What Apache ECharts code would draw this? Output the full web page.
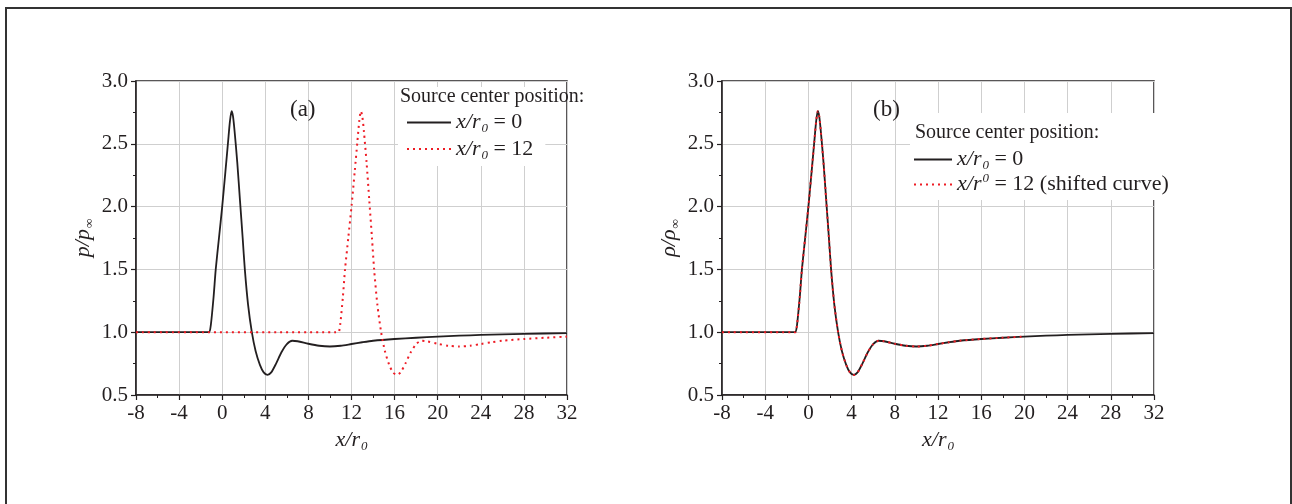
<!DOCTYPE html>
<html>
<head>
<meta charset="utf-8">
<script src="https://cdn.jsdelivr.net/npm/echarts@6/dist/echarts.min.js"></script>
<style>html,body{margin:0;padding:0;background:#fff}#c{width:1292px;height:504px}</style>
</head>
<body>
<div id="c"></div>
<script>
// ---- data ----
const xTickLabels = ['-8','-4','0','4','8','12','16','20','24','28','32'];
const yTickLabels = ['0.5','1.0','1.5','2.0','2.5','3.0'];

// source centre at x/r0 = 0 (black, both panels)
const xSrc0 = [-8,-1.4,-1.2,-1.05,-0.8,-0.6,-0.3,0,0.3,0.55,0.72,0.87,1.0,1.15,1.4,1.65,1.9,2.1,2.4,2.75,3.1,3.5,3.85,4.2,4.55,5.0,5.5,6.0,6.5,7.0,8.0,9.0,10.0,11.0,12.0,13,14,16,18,20,22,24,28,32];
const ySrc0 = [1.0,1.0,1.0,1.06,1.28,1.5,1.75,2.0,2.28,2.52,2.68,2.76,2.72,2.6,2.35,2.05,1.75,1.5,1.22,1.0,0.85,0.74,0.68,0.66,0.68,0.75,0.84,0.905,0.932,0.928,0.908,0.892,0.886,0.892,0.906,0.92,0.932,0.946,0.956,0.965,0.972,0.978,0.987,0.992];

// source centre at x/r0 = 12 (red dotted, panel a)
const xSrc12 = [-8,10.6,10.8,10.95,11.2,11.4,11.7,12,12.3,12.55,12.72,12.87,13.0,13.15,13.4,13.65,13.9,14.1,14.4,14.75,15.1,15.5,15.85,16.2,16.55,17.0,17.5,18.0,18.5,19.0,20.0,21.0,22.0,23.0,24.0,25,26,28,30,32];
const ySrc12 = [1.0,1.0,1.0,1.06,1.28,1.5,1.75,2.0,2.28,2.52,2.68,2.76,2.72,2.6,2.35,2.05,1.75,1.5,1.22,1.0,0.85,0.74,0.68,0.66,0.68,0.75,0.84,0.905,0.932,0.928,0.908,0.892,0.886,0.892,0.906,0.92,0.932,0.946,0.956,0.965];

// x/r0 = 12 shifted back by 12 (red dotted, panel b)
const xShift = [-8,-1.4,-1.2,-1.05,-0.8,-0.6,-0.3,0,0.3,0.55,0.72,0.87,1.0,1.15,1.4,1.65,1.9,2.1,2.4,2.75,3.1,3.5,3.85,4.2,4.55,5.0,5.5,6.0,6.5,7.0,8.0,9.0,10.0,11.0,12.0,13,14,16,18,20];
const yShift = [1.0,1.0,1.0,1.06,1.28,1.5,1.75,2.0,2.28,2.52,2.68,2.76,2.72,2.6,2.35,2.05,1.75,1.5,1.22,1.0,0.85,0.74,0.68,0.66,0.68,0.75,0.84,0.905,0.932,0.928,0.908,0.892,0.886,0.892,0.906,0.92,0.932,0.946,0.956,0.965];

const legendTitle = 'Source center position:';
const panelLabels = ['(a)','(b)'];

// ---- chart ----
const SERIF = '"Liberation Serif", "DejaVu Serif", serif';
const INK = '#231f20';
const RED = '#ee1c25';
const zip = (xs, ys) => xs.map((x, i) => [x, ys[i]]);

const richText = {
  i: {fontFamily: SERIF, fontStyle: 'italic', fontSize: 22, color: INK},
  n: {fontFamily: SERIF, fontSize: 22, color: INK},
  s: {fontFamily: SERIF, fontStyle: 'italic', fontSize: 13, color: INK, padding: [13, 0, 0, 1]},
  u: {fontFamily: SERIF, fontStyle: 'italic', fontSize: 13, color: INK, padding: [0, 0, 11, 1]}
};

const legendText = {
  a0: '{i|x/r}{s|0}{n| = 0}',
  a12: '{i|x/r}{s|0}{n| = 12}',
  b0: '{i|x/r}{s|0}{n| = 0}',
  b12: '{i|x/r}{u|0}{n| = 12 (shifted curve)}'
};

const grids = [
  {left: 136, top: 81, width: 431, height: 314},
  {left: 722, top: 81, width: 432, height: 314}
];

function xAx(gi) {
  return {
    gridIndex: gi, type: 'value', min: -8, max: 32, interval: 4,
    axisLine: {show: true, onZero: false, lineStyle: {color: INK, width: 1.5}},
    axisTick: {show: true, length: 5, lineStyle: {color: INK, width: 1.2}},
    minorTick: {show: true, splitNumber: 2, length: 3, lineStyle: {color: INK, width: 1}},
    splitLine: {show: true, lineStyle: {color: '#cfcfcf', width: 1}},
    axisLabel: {fontFamily: SERIF, fontSize: 21, color: INK, margin: 8,
      formatter: v => xTickLabels[Math.round((v + 8) / 4)] || ''},
    name: '{i|x/r}{s|0}', nameLocation: 'middle', nameGap: 32,
    nameTextStyle: {rich: richText}
  };
}
function yAx(gi, sym) {
  return {
    gridIndex: gi, type: 'value', min: 0.5, max: 3.0, interval: 0.5,
    axisLine: {show: true, onZero: false, lineStyle: {color: INK, width: 1.5}},
    axisTick: {show: true, length: 5, lineStyle: {color: INK, width: 1.2}},
    minorTick: {show: true, splitNumber: 2, length: 3, lineStyle: {color: INK, width: 1}},
    splitLine: {show: true, lineStyle: {color: '#cfcfcf', width: 1}},
    axisLabel: {fontFamily: SERIF, fontSize: 21, color: INK, margin: 8,
      formatter: v => yTickLabels[Math.round((v - 0.5) / 0.5)] || ''},
    name: '{i|' + sym + '/' + sym + '}{s|∞}', nameLocation: 'middle', nameGap: 40,
    nameTextStyle: {rich: richText}
  };
}

const legendCommon = {
  orient: 'vertical', backgroundColor: '#fff', itemHeight: 2,
  itemStyle: {opacity: 0, borderWidth: 0},
  formatter: n => legendText[n], textStyle: {rich: richText, lineHeight: 23}, selectedMode: false
};

const option = {
  animation: false,
  backgroundColor: '#fff',
  grid: grids.map(g => Object.assign({show: true, borderColor: INK, borderWidth: 1.5, backgroundColor: 'transparent'}, g)),
  xAxis: [xAx(0), xAx(1)],
  yAxis: [yAx(0, 'p'), yAx(1, 'ρ')],
  title: [
    {text: panelLabels[0], left: 290, top: 98, textStyle: {fontFamily: SERIF, fontWeight: 'normal', fontSize: 23, color: INK}, padding: 0},
    {text: panelLabels[1], left: 873, top: 98, textStyle: {fontFamily: SERIF, fontWeight: 'normal', fontSize: 23, color: INK}, padding: 0},
    {text: legendTitle, left: 400, top: 87, z: 10, textStyle: {fontFamily: SERIF, fontWeight: 'normal', fontSize: 20, color: INK}, padding: 0},
    {text: legendTitle, left: 915, top: 123, z: 10, textStyle: {fontFamily: SERIF, fontWeight: 'normal', fontSize: 20, color: INK}, padding: 0}
  ],
  legend: [
    Object.assign({}, legendCommon, {data: ['a0', 'a12'], left: 398, top: 87, padding: [24, 12, 4, 8],
      itemWidth: 44, itemGap: 2}),
    Object.assign({}, legendCommon, {data: ['b0', 'b12'], left: 910, top: 113, padding: [35, 4, 4, 3],
      itemWidth: 38, itemGap: 0})
  ],
  graphic: [
    {type: 'rect', shape: {x: 6, y: 8, width: 1285, height: 540}, style: {fill: 'none', stroke: '#333', lineWidth: 2}, silent: true}
  ],
  series: [
    {name: 'a0', type: 'line', xAxisIndex: 0, yAxisIndex: 0, data: zip(xSrc0, ySrc0), symbol: 'none', smooth: 0.25,
     lineStyle: {color: INK, width: 1.8}, itemStyle: {color: INK}},
    {name: 'a12', type: 'line', xAxisIndex: 0, yAxisIndex: 0, data: zip(xSrc12, ySrc12), symbol: 'none', smooth: 0.25,
     lineStyle: {color: RED, width: 2, type: [2, 4]}, itemStyle: {color: RED}},
    {name: 'b0', type: 'line', xAxisIndex: 1, yAxisIndex: 1, data: zip(xSrc0, ySrc0), symbol: 'none', smooth: 0.25,
     lineStyle: {color: INK, width: 1.8}, itemStyle: {color: INK}},
    {name: 'b12', type: 'line', xAxisIndex: 1, yAxisIndex: 1, data: zip(xShift, yShift), symbol: 'none', smooth: 0.25,
     lineStyle: {color: RED, width: 2, type: [2, 4]}, itemStyle: {color: RED}}
  ]
};

const chart = echarts.init(document.getElementById('c'), null, {renderer: 'canvas'});
chart.setOption(option);
</script>
</body>
</html>
